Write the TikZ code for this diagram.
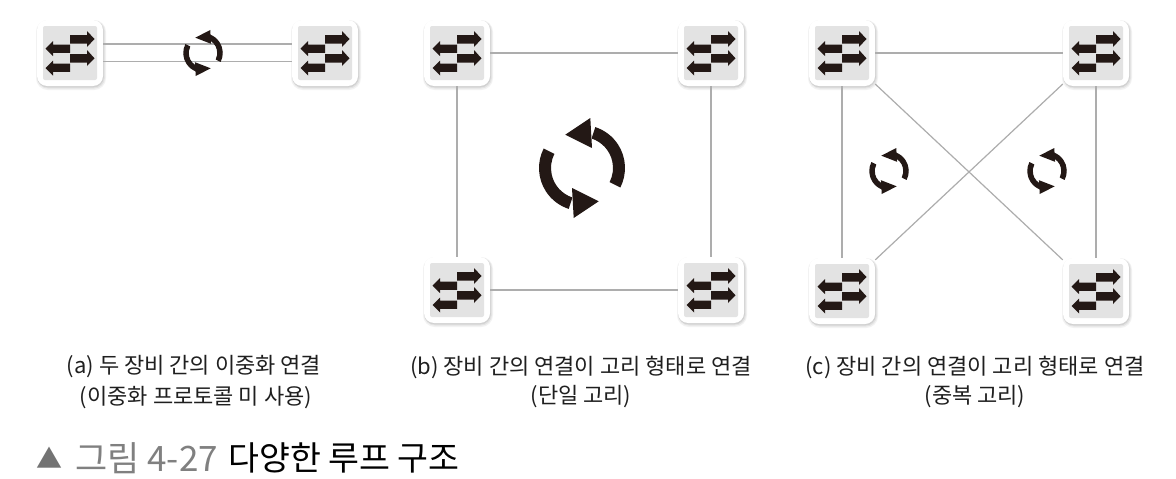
\documentclass[tikz,border=0pt]{standalone}
\usepackage{fontspec}
\setmainfont{Noto Sans CJK KR}
\definecolor{ink}{HTML}{231815}
\tikzset{
  x=1pt,y=-1pt,
  card/.style={draw=none,fill=white,rounded corners=10pt,minimum width=66pt,minimum height=66pt,inner sep=0pt,
    preaction={draw=black!5,fill=black!5,line width=4pt,transform canvas={xshift=1pt,yshift=-2pt}},
    preaction={draw=black!11,fill=black!11,line width=2pt,transform canvas={xshift=1pt,yshift=-1.5pt}},
    preaction={draw=black!18,fill=black!18,line width=0.6pt,transform canvas={xshift=0.5pt,yshift=-1pt}}},
  wire/.style={draw=black!32,line width=1.2pt},
  captext/.style={font=\fontsize{22}{22}\selectfont,text=black!88,inner sep=0pt,anchor=center},
  sw/.pic={
    \fill[black!11,rounded corners=2pt] (-27,-27) rectangle (27,27);
    \fill[ink] (0,-18) -- (17,-18) -- (17,-22) -- (24.5,-14) -- (17,-6) -- (17,-9.5) -- (0,-9.5) -- cycle;
    \fill[ink] (0,1.2) -- (17,1.2) -- (17,-3) -- (24.5,5.3) -- (17,13) -- (17,9.5) -- (0,9.5) -- cycle;
    \fill[ink] (0,-8.5) -- (-17,-8.5) -- (-17,-12) -- (-24.5,-4.3) -- (-17,3) -- (-17,-0.2) -- (0,-0.2) -- cycle;
    \fill[ink] (0,10.5) -- (-17,10.5) -- (-17,7.5) -- (-24.5,15) -- (-17,22.5) -- (-17,18.8) -- (0,18.8) -- cycle;
  }
}
\newcommand{\halfloop}[1]{%
  \fill[ink] (27:43) arc[start angle=27,end angle=-72,radius=43] -- (-72:31) arc[start angle=-72,end angle=27,radius=31] -- cycle;
  \fill[ink] (-16.7,-33.3) -- (8.3+#1,-50) -- (10+#1,-20) -- cycle;}
\newcommand{\loopat}[4]{%
  \begin{scope}[shift={(#1,#2)},scale=#3]
    \halfloop{#4}
    \begin{scope}[rotate=180]\halfloop{#4}\end{scope}
  \end{scope}}
\begin{document}
\begin{tikzpicture}
\useasboundingbox[fill=white] (0,0) rectangle (1176,479);
% cards
\node[card] (a1) at (70,53) {};
\node[card] (a2) at (325,53) {};
\node[card] (b1) at (457,53) {};
\node[card] (b2) at (711,53) {};
\node[card] (b3) at (457,290) {};
\node[card] (b4) at (711,290) {};
\node[card] (c1) at (842,53) {};
\node[card] (c2) at (1096,53) {};
\node[card] (c3) at (842,291) {};
\node[card] (c4) at (1096,291) {};
\foreach \n in {a1,a2,b1,b2,b3,b4,c1,c2,c3,c4} \pic at (\n) {sw};
% connectors
\draw[wire] ([yshift=9pt]a1.east) -- ([yshift=9pt]a2.west);
\draw[wire] ([yshift=-8.5pt]a1.east) -- ([yshift=-8.5pt]a2.west);
\draw[wire] (b1) -- (b2);
\draw[wire] (b3) -- (b4);
\draw[wire] (b1) -- (b3);
\draw[wire] (b2) -- (b4);
\draw[wire] (c1) -- (c2);
\draw[wire] (c1) -- (c3);
\draw[wire] (c2) -- (c4);
\draw[wire] (c1) -- (c4);
\draw[wire] (c2) -- (c3);
% loop icons
\loopat{203}{53}{0.46}{7.5}
\loopat{582}{168}{1}{0}
\loopat{889}{171}{0.46}{7.5}
\loopat{1047}{171}{0.46}{7.5}
% captions
\node[captext] (ca1) at (194,367) {(a) 두 장비 간의 이중화 연결};
\node[captext] (ca2) at (196,398) {(이중화 프로토콜 미 사용)};
\node[captext] (cb1) at (581,367) {(b) 장비 간의 연결이 고리 형태로 연결};
\node[captext] (cb2) at (581,397) {(단일 고리)};
\node[captext] (cc1) at (975,367) {(c) 장비 간의 연결이 고리 형태로 연결};
\node[captext] (cc2) at (975,397) {(중복 고리)};
% title
\node[inner sep=0pt,anchor=west,text=black!55,font=\fontsize{26}{26}\selectfont] (t0) at (36,458) {▲};
\node[inner sep=0pt,anchor=west,text=black!50,font=\fontsize{35}{35}\selectfont] (t1) at (75,458) {그림 4-27};
\node[inner sep=0pt,anchor=west,text=black,font=\fontsize{33.6}{33.6}\selectfont] (t2) at (228,458) {다양한 루프 구조};
\end{tikzpicture}
\end{document}
